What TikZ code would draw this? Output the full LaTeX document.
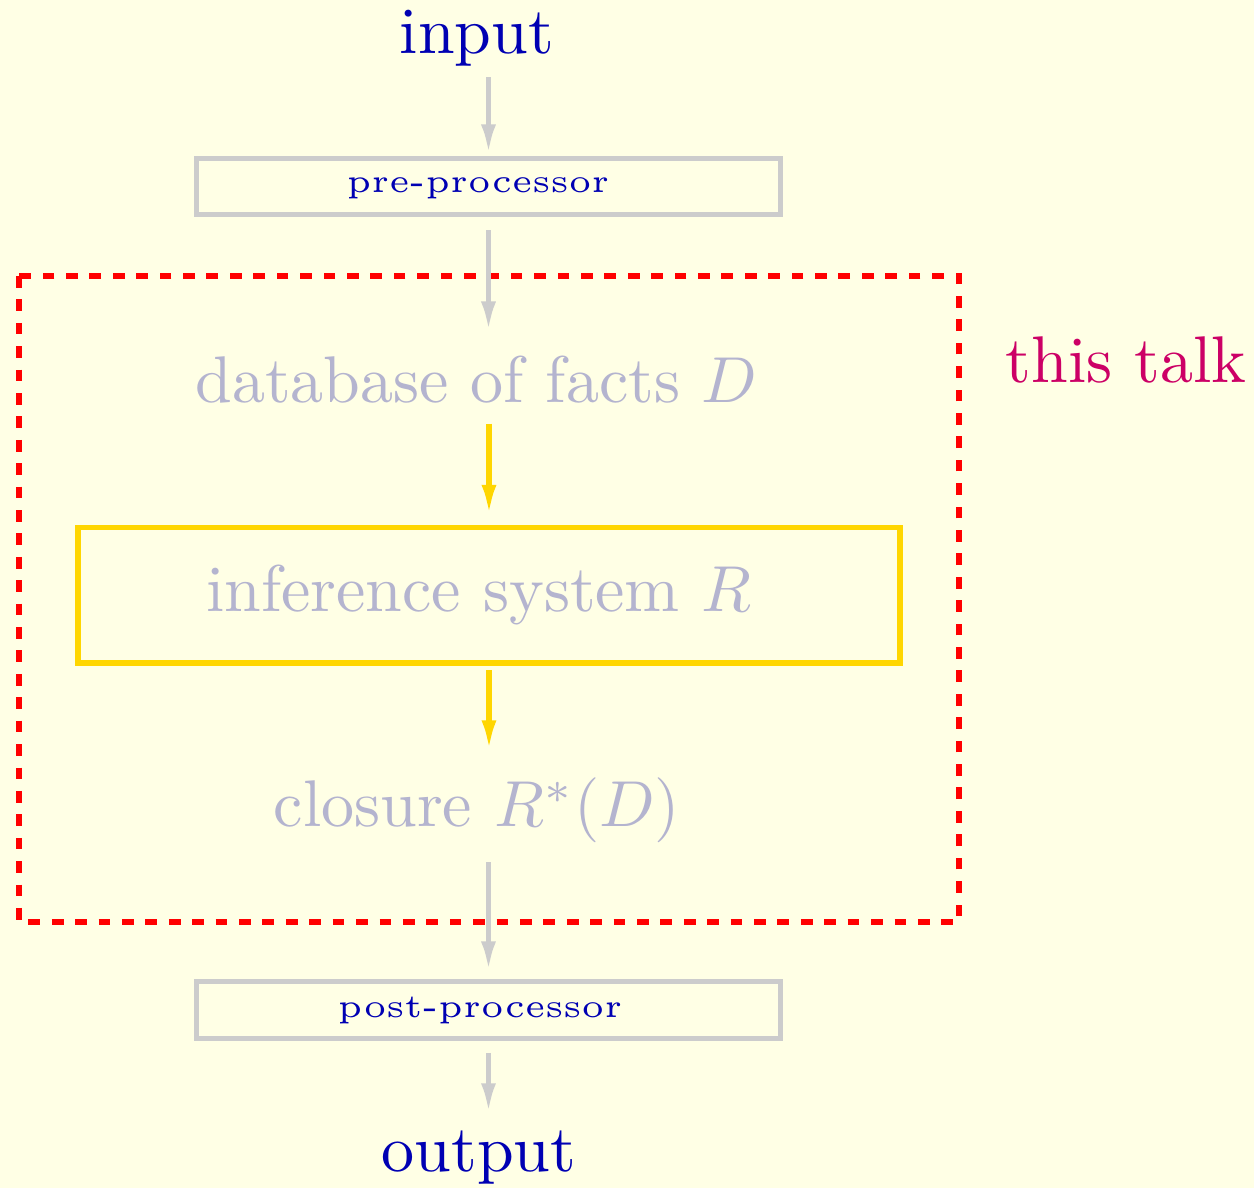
\documentclass[tikz,border=0pt]{standalone}
\usetikzlibrary{arrows.meta}
\definecolor{bgc}{RGB}{255,255,229}
\definecolor{txtblue}{RGB}{0,0,179}
\definecolor{linegray}{RGB}{204,204,204}
\definecolor{fadetext}{RGB}{180,180,207}
\definecolor{goldc}{RGB}{255,214,0}
\definecolor{talkc}{RGB}{204,0,102}
\tikzset{
  bigtext/.style={inner sep=0pt, outer sep=0pt, anchor=base, font=\fontsize{10.15}{12}\selectfont},
  smalltext/.style={inner sep=0pt, outer sep=0pt, anchor=base, text=txtblue, font=\fontsize{5.1}{6}\selectfont},
  procbox/.style={draw=linegray, line width=0.8pt, minimum width=89.8pt, minimum height=8.7pt, inner sep=0pt},
  infbox/.style={draw=goldc, line width=0.8pt, minimum width=126.4pt, minimum height=20.8pt, inner sep=0pt},
  grayarrow/.style={draw=linegray, line width=0.8pt, -{Latex[length=4.6pt,width=2.3pt]}},
  goldarrow/.style={draw=goldc, line width=0.8pt, -{Latex[length=4.6pt,width=2.3pt]}},
  talkframe/.style={draw=red, line width=0.8pt, dash pattern=on 1.8pt off 1.8pt}
}
\begin{document}
\begin{tikzpicture}[x=0.1538pt, y=-0.1538pt]
\fill[bgc] (0,0) rectangle (1254,1188);
\useasboundingbox (0,0) rectangle (1254,1188);

\draw[talkframe] (19,276) rectangle (959,922);
\node[bigtext, text=talkc] (talk) at (1126,383) {this talk};

\node[bigtext, text=txtblue] (in) at (477,54) {input};
\node[procbox] (pre) at (488.5,186.5) {};
\node[smalltext] (prelabel) at (478,193) {pre-processor};
\node[bigtext, text=fadetext] (db) at (476.5,403) {database of facts $D$};
\node[infbox] (inf) at (489,595.5) {};
\node[bigtext, text=fadetext] (inflabel) at (479,612) {inference system $R$};
\node[bigtext, text=fadetext] (clo) at (477,827) {closure $R^*(D)$};
\node[procbox] (post) at (488.5,1010) {};
\node[smalltext] (postlabel) at (480,1018) {post-processor};
\node[bigtext, text=txtblue] (out) at (479,1172) {output};

\draw[grayarrow, shorten <=1.6pt, shorten >=0.2pt] (pre.north |- in.south) -- (pre.north);
\draw[grayarrow, shorten <=2pt, shorten >=3.85pt] (pre.south) -- (pre.south |- db.north);
\draw[goldarrow, shorten <=3.08pt, shorten >=1.6pt] (inf.north |- db.south) -- (inf.north);
\draw[goldarrow, shorten <=0.7pt, shorten >=4.3pt] (inf.south) -- (inf.south |- clo.north);
\draw[grayarrow, shorten <=2.9pt, shorten >=1.2pt] (post.north |- clo.south) -- (post.north);
\draw[grayarrow, shorten <=1.85pt, shorten >=2.8pt] (post.south) -- (post.south |- out.north);
\end{tikzpicture}
\end{document}
